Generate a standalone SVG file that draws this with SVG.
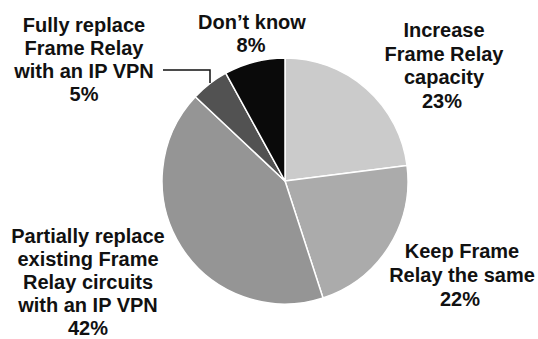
<svg xmlns="http://www.w3.org/2000/svg" width="538" height="339" viewBox="0 0 538 339">
  <style>
    .lbl { font-family: "Liberation Sans", Arial, sans-serif; font-weight: 700; font-size: 20px; fill: #111; text-anchor: middle; }
    .slice { stroke: #ffffff; stroke-width: 1.5; stroke-linejoin: round; }
    .leader { fill: none; stroke: #111; stroke-width: 1.5; }
  </style>
  <rect width="538" height="339" fill="#ffffff"/>

  <!-- pie: centre (285,181), radius 123, slices clockwise from 12 o'clock -->
  <g id="slice-increase">
    <path class="slice" fill="#cbcbcb" d="M285,181 L285,58 A123,123 0 0 1 407.03,165.58 Z"/>
  </g>
  <g id="slice-keep">
    <path class="slice" fill="#ababab" d="M285,181 L407.03,165.58 A123,123 0 0 1 323.01,297.98 Z"/>
  </g>
  <g id="slice-partially">
    <path class="slice" fill="#959595" d="M285,181 L323.01,297.98 A123,123 0 0 1 195.34,96.80 Z"/>
  </g>
  <g id="slice-fully">
    <path class="slice" fill="#525252" d="M285,181 L195.34,96.80 A123,123 0 0 1 225.74,73.21 Z"/>
  </g>
  <g id="slice-dontknow">
    <path class="slice" fill="#0a0a0a" d="M285,181 L225.74,73.21 A123,123 0 0 1 285,58 Z"/>
  </g>

  <!-- leader from the small slice to its label -->
  <g id="connectors">
    <path class="leader" d="M163,70 H210 V83"/>
  </g>

  <g id="label-fully">
    <text class="lbl" x="84" y="32">Fully replace</text>
    <text class="lbl" x="84" y="55">Frame Relay</text>
    <text class="lbl" x="84" y="78">with an IP VPN</text>
    <text class="lbl" x="84" y="101">5%</text>
  </g>
  <g id="label-dontknow">
    <text class="lbl" x="252" y="29">Don’t know</text>
    <text class="lbl" x="251" y="51.5">8%</text>
  </g>
  <g id="label-increase">
    <text class="lbl" x="444" y="37">Increase</text>
    <text class="lbl" x="444" y="61">Frame Relay</text>
    <text class="lbl" x="444" y="84">capacity</text>
    <text class="lbl" x="442" y="108">23%</text>
  </g>
  <g id="label-keep">
    <text class="lbl" x="462" y="258">Keep Frame</text>
    <text class="lbl" x="462" y="282">Relay the same</text>
    <text class="lbl" x="460" y="306">22%</text>
  </g>
  <g id="label-partially">
    <text class="lbl" x="88" y="243">Partially replace</text>
    <text class="lbl" x="88" y="266">existing Frame</text>
    <text class="lbl" x="88" y="289">Relay circuits</text>
    <text class="lbl" x="88" y="312">with an IP VPN</text>
    <text class="lbl" x="88" y="334.5">42%</text>
  </g>
</svg>
